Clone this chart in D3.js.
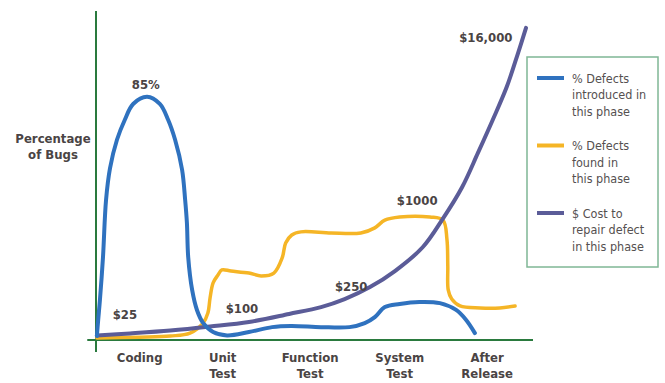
<!DOCTYPE html>
<html><head><meta charset="utf-8">
<script src="https://cdnjs.cloudflare.com/ajax/libs/d3/7.8.5/d3.min.js"></script>
<style>
html,body{margin:0;padding:0;background:#fff;}
text{font-family:"DejaVu Sans Condensed","Liberation Sans Narrow",sans-serif;}
</style></head>
<body><svg id="c" width="665" height="383"></svg>
<script>
// Timeline position (0-100) of each phase and its label lines
const categories = [["Coding"],["Unit","Test"],["Function","Test"],["System","Test"],["After","Release"]];
const categoryPos = [10, 29, 49, 69.5, 89.5];

// % defects introduced in this phase  [timeline, percent]
const introduced = [[0.2,1.4],[0.5,7],[0.9,14],[1.6,29],[2.3,49],[3.2,60],[4.8,70],[6.6,77],[8.5,82.5],[11.7,85],[14.6,82.5],[16.5,77],[18.1,70],[19.7,59.5],[20.4,49],[20.8,41],[21.1,29],[22,17.5],[23.1,10.5],[24.5,6],[26.8,2.8],[30,1.6],[35,2.8],[40.3,4.5],[44.6,4.9],[51.5,4.5],[58,4.5],[61.5,5.9],[63.8,8],[66.1,11.5],[69.5,12.6],[74,13.3],[78.7,12.9],[82.4,10.5],[84.7,7],[86.7,2.4]];
// % defects found in this phase
const found = [[0.2,0.7],[10,1],[17,1.4],[21.5,2.4],[24.5,5.9],[25.6,9.4],[26.1,14.7],[26.8,20],[27.9,22.7],[28.8,24.5],[30.9,24.1],[35,23.4],[37.8,22.4],[40.7,23.4],[42.6,28.7],[43.4,33.9],[44.8,36.7],[46.9,37.8],[53.8,37.4],[60.6,37.4],[63.8,39.2],[66.1,41.9],[69.5,43],[76.4,43],[79.4,41.9],[80.3,35.3],[80.5,26],[80.6,17.5],[81.4,14.3],[83.3,11.9],[87.9,11.2],[92.4,11.2],[95.9,11.9]];
// $ cost to repair a defect in this phase (drawn on the same relative height)
const cost = [[0.2,1.6],[7.8,2.3],[17,3.3],[26.1,4.7],[35,6.3],[44.2,9.1],[51.5,11.5],[56.9,14.3],[62.7,18.5],[68.4,24.1],[74.8,32.5],[79.2,42],[83.8,53.5],[87.4,65.4],[90.8,77],[94,88.5],[96.6,100.4],[98.4,109.1]];
const costLabels = [["$25",6.6,7.3],["$100",33.4,9.4],["$250",58.4,17.1],["$1000",73.5,47.2],["$16,000",89.2,104.2]];
const peakLabel = ["85%",11.4,87.9];
const legendItems = [["% Defects","introduced in","this phase"],["% Defects","found in","this phase"],["$ Cost to","repair defect","in this phase"]];
const seriesColors = ["#2f72bf","#f5b526","#5b5c98"];

const svg = d3.select("#c");
const x = d3.scaleLinear().domain([0,100]).range([96,533]);
const y = d3.scaleLinear().domain([0,115]).range([340,11]);
const ink = "#4a4444";
const green = "#2a7a3e";

// axes
svg.append("line").attr("x1",x(-2)).attr("x2",x(100)).attr("y1",y(0)).attr("y2",y(0)).attr("stroke",green).attr("stroke-width",2);
svg.append("line").attr("x1",x(0)).attr("x2",x(0)).attr("y1",y(115)).attr("y2",y(-4.2)).attr("stroke",green).attr("stroke-width",2);

// y title
svg.append("text").attr("x",53).attr("y",143).attr("text-anchor","middle").attr("font-size",13).attr("font-weight","bold").attr("fill",ink).text("Percentage");
svg.append("text").attr("x",53).attr("y",159).attr("text-anchor","middle").attr("font-size",13).attr("font-weight","bold").attr("fill",ink).text("of Bugs");

// category labels
categories.forEach((lines,i)=>{
  lines.forEach((t,j)=>{
    svg.append("text").attr("x",x(categoryPos[i])).attr("y",362+j*16).attr("text-anchor","middle")
      .attr("font-size",13).attr("font-weight","bold").attr("fill",ink).text(t);
  });
});

const line = d3.line().x(d=>x(d[0])).y(d=>y(d[1])).curve(d3.curveCatmullRom.alpha(0.5));
[[found,1,3.5],[cost,2,4],[introduced,0,4]].forEach(([data,ci,w])=>{
  svg.append("path").attr("d",line(data)).attr("fill","none").attr("stroke",seriesColors[ci])
    .attr("stroke-width",w).attr("stroke-linecap","round").attr("stroke-linejoin","round");
});

// annotations
costLabels.concat([peakLabel]).forEach(([t,tx,ty])=>{
  svg.append("text").attr("x",x(tx)).attr("y",y(ty)).attr("text-anchor","middle")
    .attr("font-size",13).attr("font-weight","bold").attr("fill",ink).text(t);
});

// legend
svg.append("rect").attr("x",527).attr("y",57).attr("width",131).attr("height",210)
  .attr("fill","#fff").attr("stroke","#7fb795").attr("stroke-width",1.5);
legendItems.forEach((lines,i)=>{
  const y0 = 78 + i*67.5;
  svg.append("line").attr("x1",537).attr("x2",564).attr("y1",y0).attr("y2",y0)
    .attr("stroke",seriesColors[i]).attr("stroke-width",4);
  lines.forEach((t,j)=>{
    svg.append("text").attr("x",572).attr("y",y0+4.5+j*16.7).attr("font-size",12.5)
      .attr("fill","#555050").text(t);
  });
});
</script></body></html>
